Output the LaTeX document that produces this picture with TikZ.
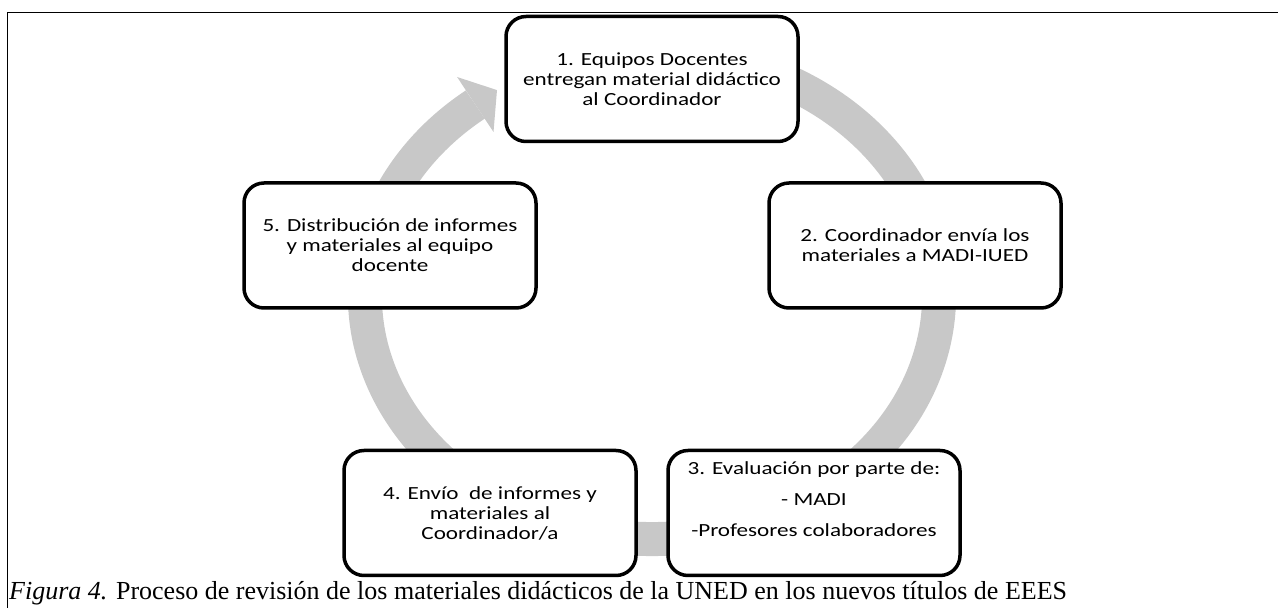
\documentclass[tikz,border=0pt]{standalone}
\usepackage{fontspec}
\setmainfont{Liberation Serif}
\newfontfamily\boxfont[FakeStretch=1.25]{Carlito}
\definecolor{ringgray}{RGB}{200,200,200}
\begin{document}
\begin{tikzpicture}[x=1pt,y=1pt,
  box/.style={draw=black, line width=3.5pt, rounded corners=20pt, fill=white,
    minimum width=292pt, minimum height=125pt, align=center, inner sep=0pt,
    font=\boxfont\fontsize{18.5}{20}\selectfont},
  boxtext/.style={align=center, inner sep=0pt, font=\boxfont\fontsize{18.5}{20}\selectfont},
  ring/.style={draw=ringgray, line width=34pt},
  frame/.style={draw=black, line width=1.4pt}]
\useasboundingbox (0,0) rectangle (1278,608);
% outer frame (top and left lines)
\coordinate (fr) at (1278,595.5);
\coordinate (fc) at (7.5,595.5);
\coordinate (fb) at (7.5,0);
\draw[frame] (fr) -- (fc) -- (fb);
% cycle ring
\coordinate (C) at (652,312);
\draw[ring] ([shift={(75:287pt and 243pt)}]C) arc[start angle=75, end angle=-232, x radius=287pt, y radius=243pt];
\coordinate (ha) at (457.1,531.0);
\coordinate (ht) at (497.0,517.9);
\coordinate (hb) at (493.5,476.0);
\fill[ringgray] (ha) -- (ht) -- (hb) -- cycle;
% boxes
\node[box] (n1) at (652,529) {1. Equipos Docentes\\entregan material didáctico\\al Coordinador};
\node[box] (n2) at (915,362.5) {2. Coordinador envía los\\materiales a MADI-IUED};
\node[box] (n5) at (390,362.5) {5. Distribución de informes\\y materiales al equipo\\docente};
\node[box] (n4) at (490,95) {4. Envío\ \ de informes y\\materiales al\\Coordinador/a};
\node[box] (n3) at (814,95) {};
\node[boxtext] (n3t) at (814,109) {3. Evaluación por parte de:\\[11pt]- MADI\\[11pt]-Profesores colaboradores};
% caption
\node[anchor=base west, inner sep=0pt, font=\fontsize{26}{30}\selectfont] (cap) at (9,8)
  {\textit{Figura 4.} Proceso de revisión de los materiales didácticos de la UNED en los nuevos títulos de EEES};
\end{tikzpicture}
\end{document}
